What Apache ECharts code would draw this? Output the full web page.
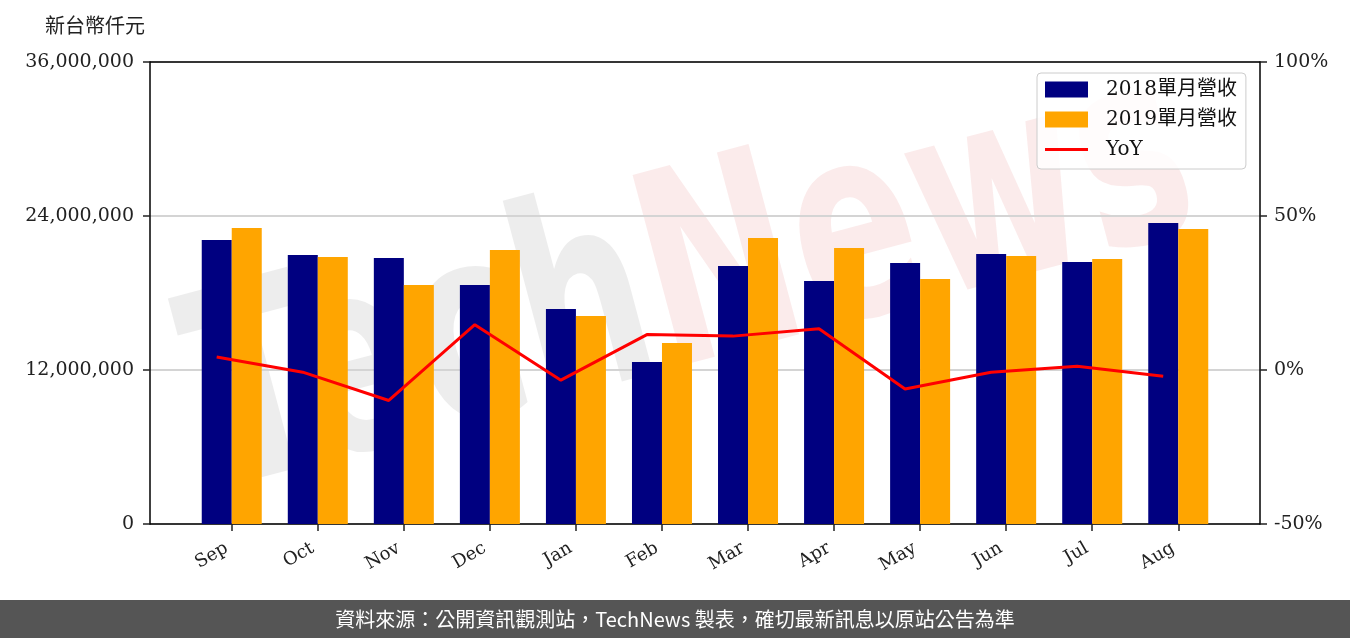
<!DOCTYPE html>
<html lang="zh-Hant-TW">
<head>
<meta charset="utf-8">
<script src="https://cdn.jsdelivr.net/npm/echarts@6/dist/echarts.min.js"></script>
<style>
html,body{margin:0;padding:0;background:#fff;}
#chart{width:1350px;height:638px;}
</style>
</head>
<body>
<div id="chart" lang="zh-Hant-TW"></div>
<script>
const categories = ['Sep','Oct','Nov','Dec','Jan','Feb','Mar','Apr','May','Jun','Jul','Aug'];
const rev2018 = [22130000, 20960000, 20730000, 18620000, 16750000, 12620000, 20100000, 18940000, 20340000, 21040000, 20420000, 23450000];
const rev2019 = [23060000, 20810000, 18620000, 21350000, 16210000, 14100000, 22290000, 21510000, 19090000, 20880000, 20650000, 22990000];
const yoy = [4.2, -0.7, -9.9, 14.7, -3.3, 11.5, 11.0, 13.4, -6.2, -0.7, 1.2, -2.0];
const seriesNames = ['2018單月營收', '2019單月營收', 'YoY'];
const leftMin = 0, leftMax = 36000000, leftInterval = 12000000;
const rightMin = -50, rightMax = 100, rightInterval = 50;
const unitLabel = '新台幣仟元';
const footerText = '資料來源：公開資訊觀測站，TechNews 製表，確切最新訊息以原站公告為準';

const serif = '"DejaVu Serif", "Noto Sans CJK TC", serif';
const idx = categories.map((c, i) => i);

const chart = echarts.init(document.getElementById('chart'), null, {renderer: 'canvas'});
chart.setOption({
  animation: false,
  backgroundColor: '#ffffff',
  grid: {left: 150, right: 90, top: 62, bottom: 114, containLabel: false},
  legend: {
    orient: 'vertical',
    left: 1037, top: 73,
    padding: [6, 9, 9, 8],
    itemGap: 9,
    itemWidth: 43, itemHeight: 16,
    backgroundColor: 'rgba(255,255,255,0.85)',
    borderColor: '#cccccc', borderWidth: 1, borderRadius: 4,
    textStyle: {fontFamily: serif, fontSize: 20, color: '#111', padding: [0, 0, 0, 13], lineHeight: 21},
    data: [
      {name: seriesNames[0], icon: 'rect'},
      {name: seriesNames[1], icon: 'rect'},
      {name: seriesNames[2], icon: 'path://M0,0H430V30H0Z'}
    ]
  },
  xAxis: [
    {
      type: 'value', min: -0.95, max: 11.95, position: 'bottom',
      axisLine: {show: true, onZero: false, lineStyle: {color: '#000', width: 1.5}},
      axisTick: {show: true, inside: false, length: 7, customValues: idx, lineStyle: {color: '#222', width: 1.5}},
      axisLabel: {
        show: true, customValues: idx, rotate: 30, margin: 20,
        formatter: v => categories[Math.round(v)],
        fontFamily: serif, fontSize: 18, color: '#222', padding: [0, 6, 0, 0]
      },
      splitLine: {show: false}
    },
    {
      type: 'value', min: -0.775, max: 12.125, position: 'top',
      axisLine: {show: true, onZero: false, lineStyle: {color: '#000', width: 1.5}},
      axisTick: {show: false}, axisLabel: {show: false}, splitLine: {show: false}
    }
  ],
  yAxis: [
    {
      type: 'value', min: leftMin, max: leftMax, interval: leftInterval, position: 'left',
      axisLine: {show: true, onZero: false, lineStyle: {color: '#000', width: 1.5}},
      axisTick: {show: true, inside: false, length: 7, lineStyle: {color: '#222', width: 1.5}},
      axisLabel: {
        margin: 16, fontFamily: serif, fontSize: 19, color: '#222',
        formatter: v => v.toLocaleString('en-US')
      },
      splitLine: {show: true, lineStyle: {color: '#d4d4d4', width: 2}}
    },
    {
      type: 'value', min: rightMin, max: rightMax, interval: rightInterval, position: 'right',
      axisLine: {show: true, onZero: false, lineStyle: {color: '#000', width: 1.5}},
      axisTick: {show: true, inside: false, length: 7, lineStyle: {color: '#222', width: 1.5}},
      axisLabel: {margin: 14, fontFamily: serif, fontSize: 19, color: '#222', formatter: '{value}%'},
      splitLine: {show: false}
    }
  ],
  series: [
    {
      name: seriesNames[0], type: 'bar', xAxisIndex: 0, yAxisIndex: 0,
      barWidth: 30, barGap: '0%',
      itemStyle: {color: '#000080'},
      data: rev2018.map((v, i) => [i, v])
    },
    {
      name: seriesNames[1], type: 'bar', xAxisIndex: 0, yAxisIndex: 0,
      barWidth: 30, barGap: '0%',
      itemStyle: {color: '#FFA500'},
      data: rev2019.map((v, i) => [i, v])
    },
    {
      name: seriesNames[2], type: 'line', xAxisIndex: 1, yAxisIndex: 1,
      symbol: 'none', z: 5,
      lineStyle: {color: '#FF0000', width: 3},
      itemStyle: {color: '#FF0000'},
      data: yoy.map((v, i) => [i, v])
    }
  ],
  graphic: [
    {
      type: 'group', x: 195, y: 500, rotation: 0.26, scaleX: 0.68, z: 100, silent: true,
      children: [
        {type: 'text', x: 720, y: 60, style: {text: 'Tech', align: 'right', verticalAlign: 'bottom',
          font: 'bold 270px "DejaVu Sans"', fill: 'rgba(128,128,128,0.14)'}},
        {type: 'text', x: 720, y: 60, style: {text: 'News', align: 'left', verticalAlign: 'bottom',
          font: 'bold 270px "DejaVu Sans"', fill: 'rgba(220,60,60,0.1)'}}
      ]
    },
    {
      type: 'text', left: 45, top: 15, z: 10,
      style: {text: unitLabel, font: '20px "Noto Sans CJK TC"', fill: '#222'}
    },
    {
      type: 'rect', left: 0, top: 600, z: 10,
      shape: {width: 1350, height: 38},
      style: {fill: '#555555'}
    },
    {
      type: 'text', x: 675, y: 619, z: 11,
      style: {text: footerText, align: 'center', verticalAlign: 'middle',
        font: '20px "Noto Sans CJK TC"', fill: '#ffffff'}
    }
  ]
});
</script>
</body>
</html>
